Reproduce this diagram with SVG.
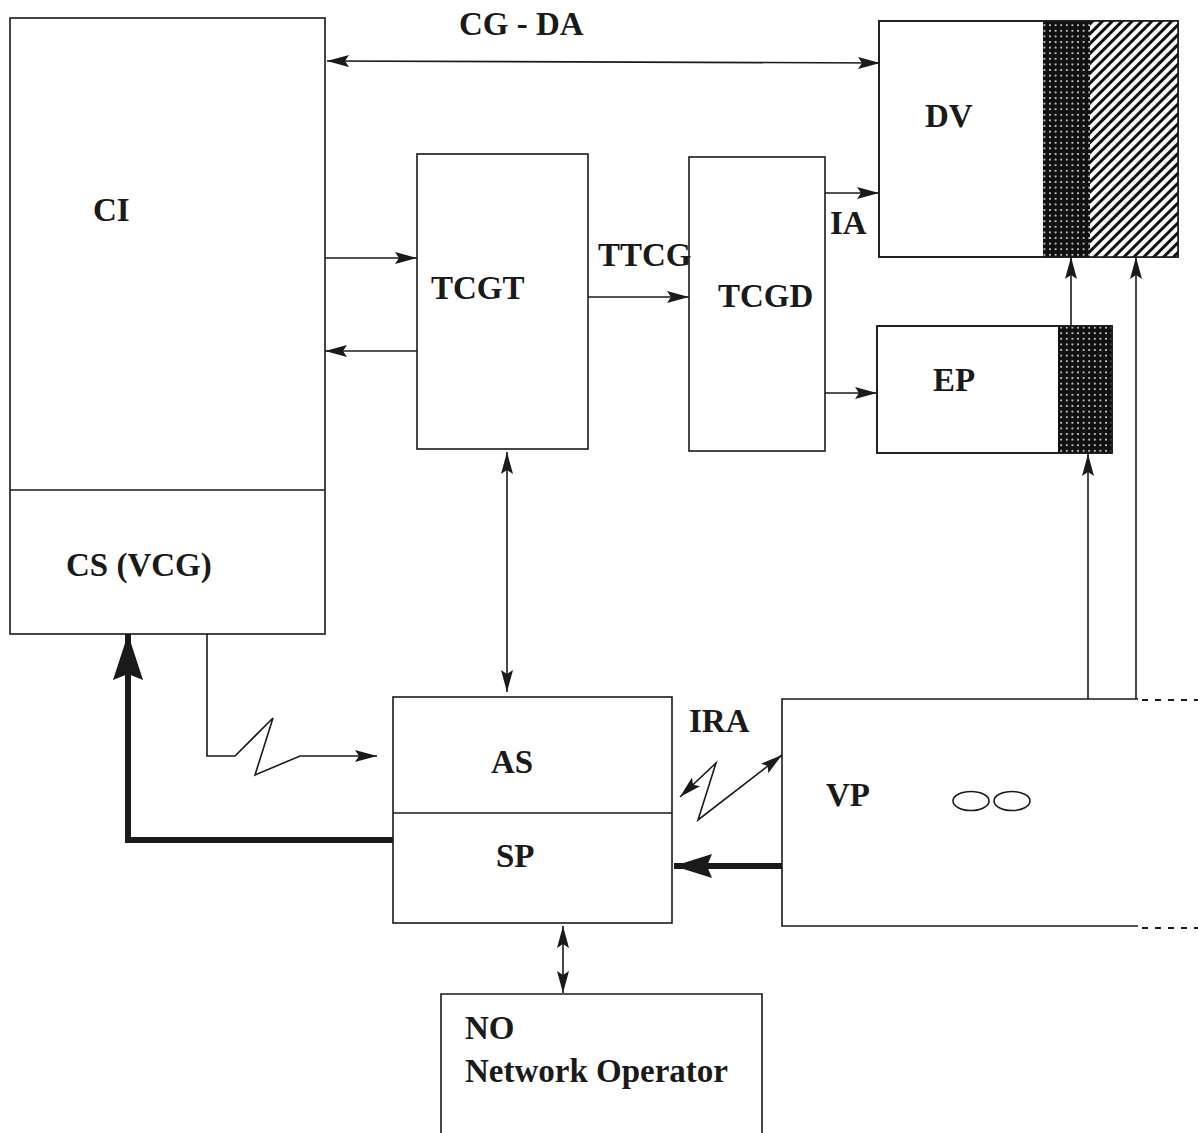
<svg xmlns="http://www.w3.org/2000/svg" width="1198" height="1133" viewBox="0 0 1198 1133">
<style>
.box{fill:#fff;stroke:#1a1a1a;stroke-width:1.6}
.ln{fill:none;stroke:#1a1a1a;stroke-width:1.6}
.thick{fill:none;stroke:#1a1a1a;stroke-width:6}
.lbl{font-family:"Liberation Serif","Times New Roman",serif;font-weight:bold;font-size:33px;fill:#1a1a1a}
.dash{fill:none;stroke:#1a1a1a;stroke-width:2;stroke-dasharray:6,7}
</style>
<defs>
<marker id="ah" viewBox="0 0 22 12" refX="22" refY="6" markerWidth="22" markerHeight="12" markerUnits="userSpaceOnUse" orient="auto-start-reverse">
<path d="M0,0 L22,6 L0,12 L4,6 z" fill="#1a1a1a"/>
</marker>
<marker id="big" viewBox="0 0 46 30" refX="46" refY="15" markerWidth="46" markerHeight="30" markerUnits="userSpaceOnUse" orient="auto">
<path d="M0,0 L46,15 L0,30 L6,15 z" fill="#1a1a1a"/>
</marker>
<marker id="mid" viewBox="0 0 38 24" refX="38" refY="12" markerWidth="38" markerHeight="24" markerUnits="userSpaceOnUse" orient="auto">
<path d="M0,0 L38,12 L0,24 L5,12 z" fill="#1a1a1a"/>
</marker>
<pattern id="dots" width="5.6" height="5.6" patternUnits="userSpaceOnUse">
<rect width="5.6" height="5.6" fill="#111"/>
<rect x="2" y="2" width="1.6" height="1.6" fill="#fff"/>
</pattern>
<pattern id="hatch" width="7" height="7" patternUnits="userSpaceOnUse" patternTransform="rotate(45)">
<rect width="7" height="7" fill="#fff"/>
<line x1="3.5" y1="0" x2="3.5" y2="7" stroke="#111" stroke-width="3"/>
</pattern>
</defs>
<rect width="1198" height="1133" fill="#fff"/>

<g id="CI">
<rect class="box" x="10" y="18" width="315" height="616"/>
<line class="ln" x1="10" y1="490" x2="325" y2="490"/>
<text class="lbl" x="93" y="221">CI</text>
<text class="lbl" x="66" y="576">CS (VCG)</text>
</g>

<g id="TCGT">
<rect class="box" x="417" y="154" width="171" height="295"/>
<text class="lbl" x="431" y="299">TCGT</text>
</g>

<g id="TCGD">
<rect class="box" x="689" y="157" width="136" height="294"/>
<text class="lbl" x="718" y="307">TCGD</text>
</g>

<g id="DV">
<rect class="box" x="879" y="21" width="299" height="236"/>
<rect x="1043" y="21" width="47" height="236" fill="url(#dots)"/>
<rect x="1090" y="21" width="88" height="236" fill="url(#hatch)"/>
<rect class="ln" x="879" y="21" width="299" height="236"/>
<text class="lbl" x="925" y="127">DV</text>
</g>

<g id="EP">
<rect class="box" x="877" y="326" width="235" height="127"/>
<rect x="1058" y="326" width="54" height="127" fill="url(#dots)"/>
<rect class="ln" x="877" y="326" width="235" height="127"/>
<text class="lbl" x="933" y="391">EP</text>
</g>

<g id="AS_SP">
<rect class="box" x="393" y="697" width="279" height="226"/>
<line class="ln" x1="393" y1="813" x2="672" y2="813"/>
<text class="lbl" x="491" y="773">AS</text>
<text class="lbl" x="496" y="867">SP</text>
</g>

<g id="VP">
<polyline class="ln" points="1138,699 782,699 782,926 1138,926"/>
<line class="dash" x1="1142" y1="700" x2="1198" y2="700"/>
<line class="dash" x1="1142" y1="928" x2="1198" y2="928"/>
<text class="lbl" x="826" y="806">VP</text>
<ellipse class="ln" cx="971" cy="801" rx="18" ry="9.5"/>
<ellipse class="ln" cx="1012" cy="801" rx="18" ry="9.5"/>
</g>

<g id="NO">
<polyline class="box" points="441,1133 441,994 762,994 762,1133"/>
<text class="lbl" x="465" y="1039">NO</text>
<text class="lbl" x="465" y="1082">Network Operator</text>
</g>

<g id="labels">
<text class="lbl" x="459" y="35">CG - DA</text>
<text class="lbl" x="598" y="266">TTCG</text>
<text class="lbl" x="830" y="234">IA</text>
<text class="lbl" x="689" y="732">IRA</text>
</g>

<g id="connectors">
<line class="ln" x1="327" y1="61" x2="880" y2="63" marker-start="url(#ah)" marker-end="url(#ah)"/>
<line class="ln" x1="325" y1="258" x2="417" y2="258" marker-end="url(#ah)"/>
<line class="ln" x1="417" y1="351" x2="325" y2="351" marker-end="url(#ah)"/>
<line class="ln" x1="588" y1="297" x2="689" y2="297" marker-end="url(#ah)"/>
<line class="ln" x1="825" y1="193" x2="879" y2="193" marker-end="url(#ah)"/>
<line class="ln" x1="825" y1="393" x2="877" y2="393" marker-end="url(#ah)"/>
<line class="ln" x1="1071" y1="326" x2="1071" y2="257" marker-end="url(#ah)"/>
<line class="ln" x1="1136" y1="699" x2="1136" y2="257" marker-end="url(#ah)"/>
<line class="ln" x1="1088" y1="699" x2="1088" y2="454" marker-end="url(#ah)"/>
<line class="ln" x1="507" y1="452" x2="507" y2="692" marker-start="url(#ah)" marker-end="url(#ah)"/>
<line class="ln" x1="563" y1="926" x2="563" y2="993" marker-start="url(#ah)" marker-end="url(#ah)"/>
<polyline class="ln" points="207,634 207,756 235,756 273,718 255,775 300,756 377,756" marker-end="url(#ah)"/>
<polyline class="ln" points="680,797 716,763 698,820 782,755" marker-start="url(#ah)" marker-end="url(#ah)"/>
<polyline class="thick" points="393,840 128,840 128,634" marker-end="url(#big)" stroke-linejoin="miter"/>
<line class="thick" x1="782" y1="866" x2="674" y2="866" marker-end="url(#mid)"/>
</g>
</svg>
